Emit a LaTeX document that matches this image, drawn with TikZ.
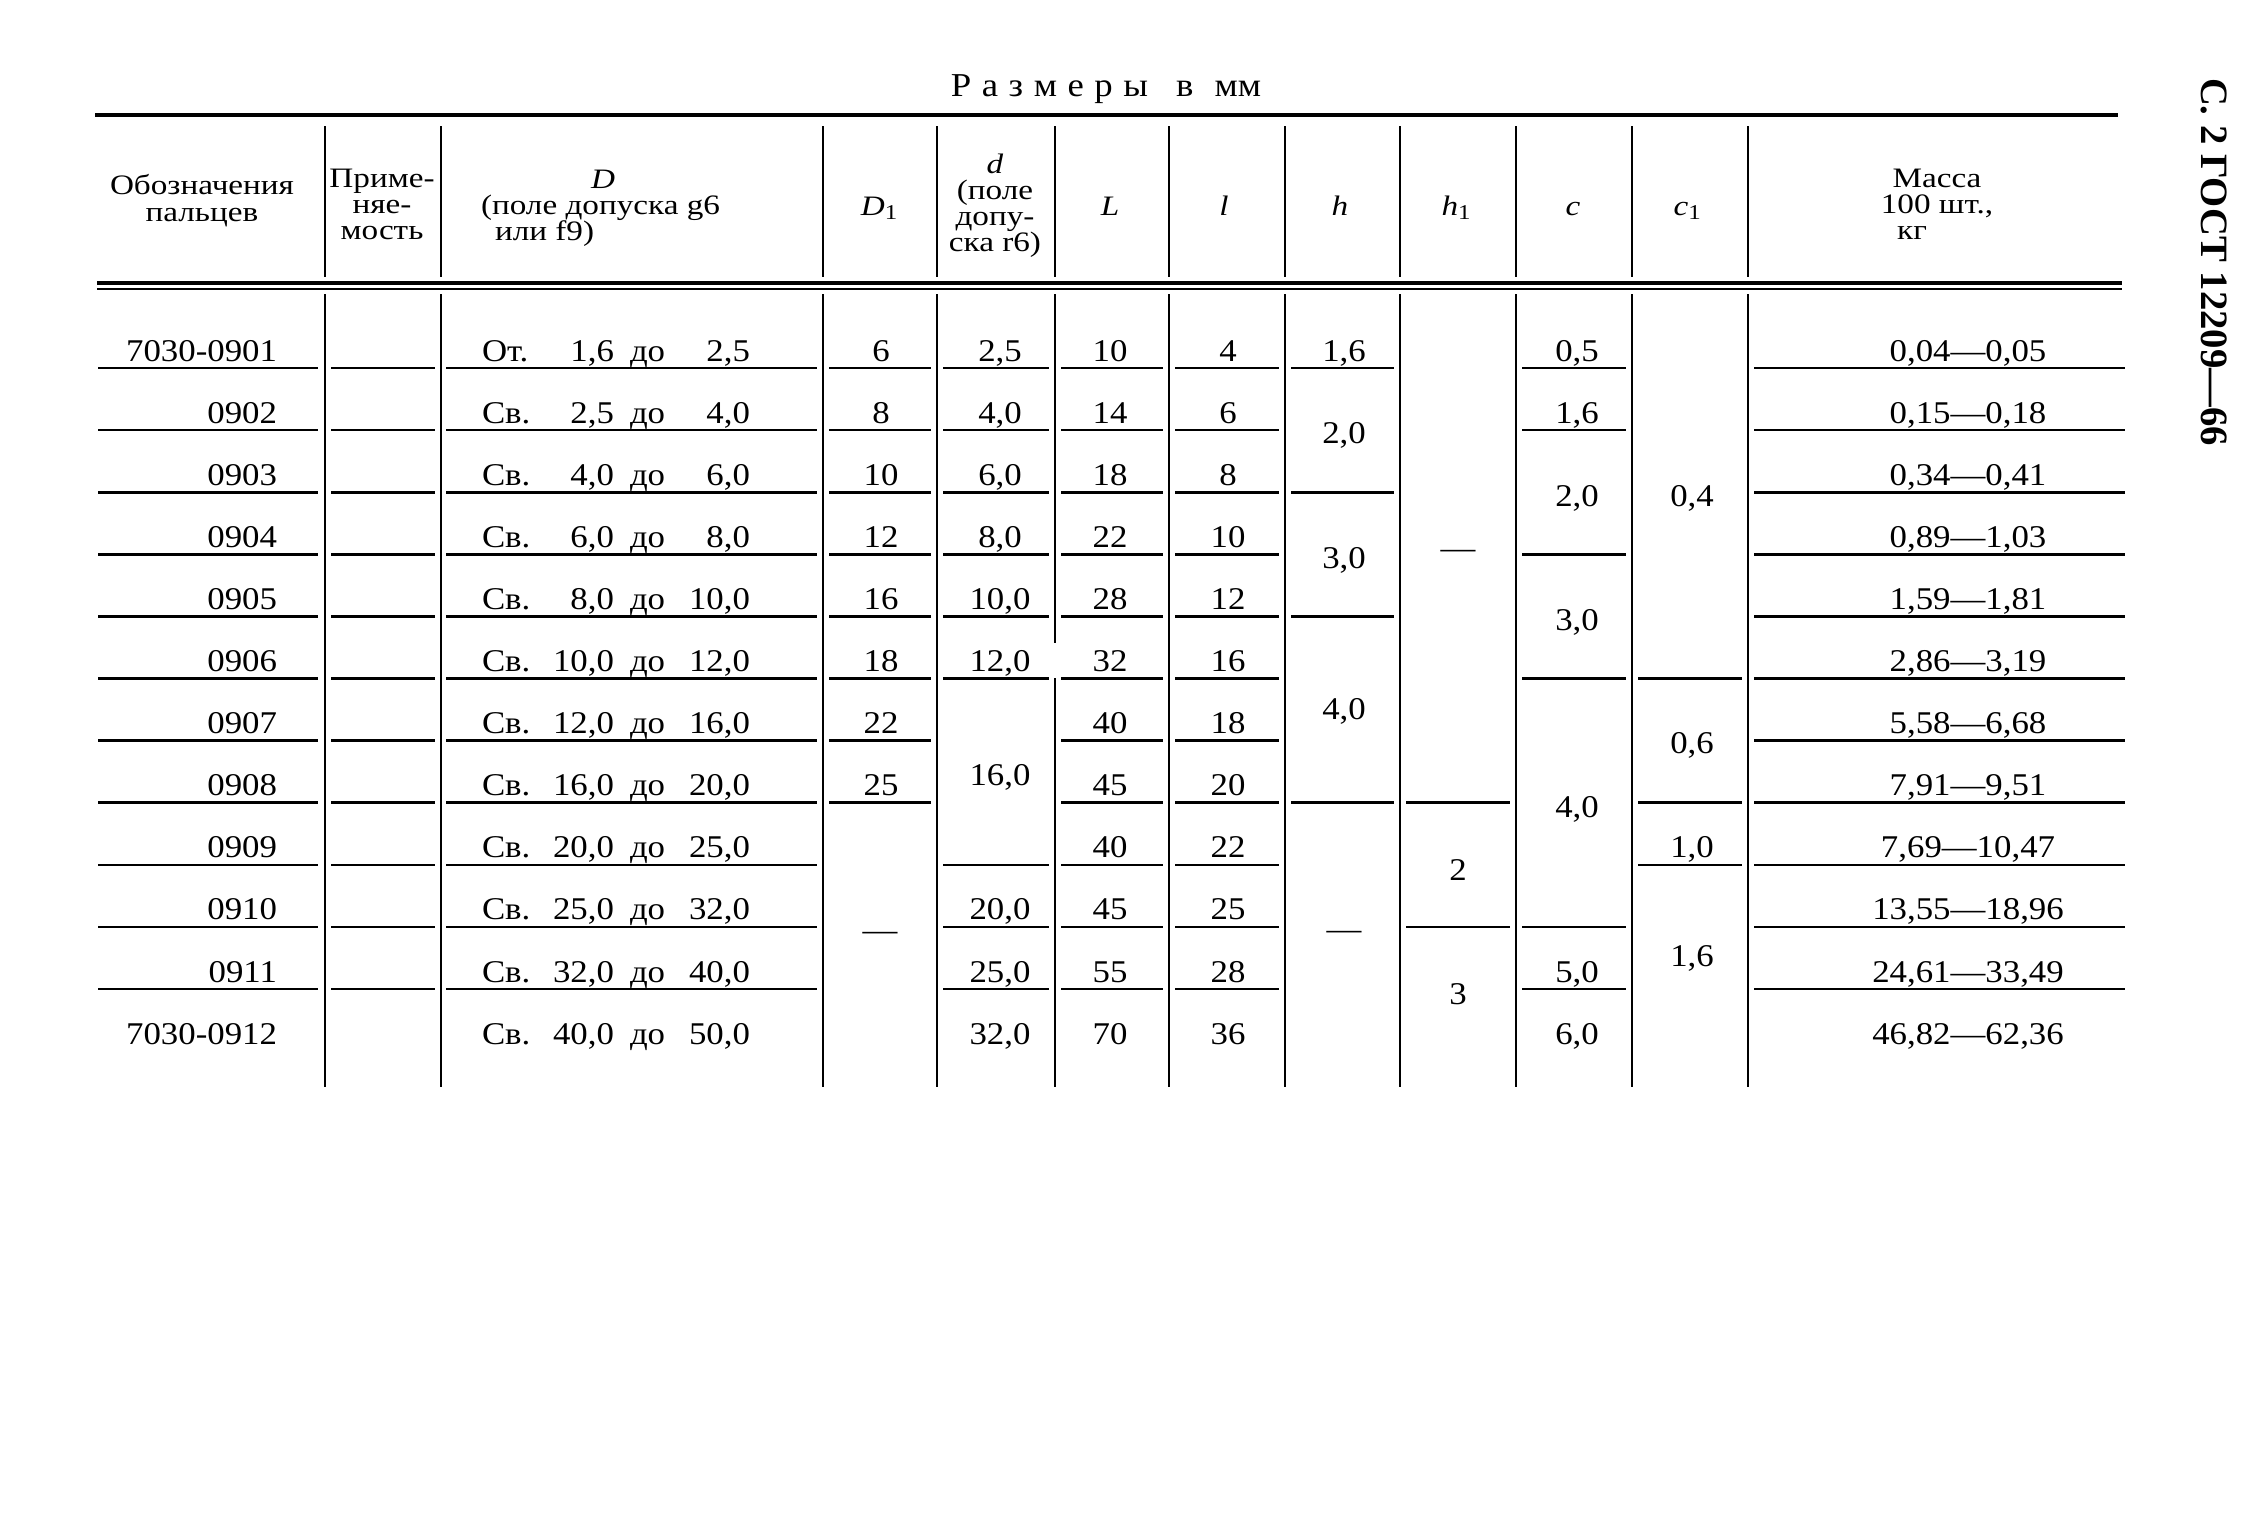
\documentclass[tikz,border=0pt]{standalone}
\usepackage{fontspec}
\setmainfont[FakeStretch=1.1]{Liberation Serif}
\newfontfamily\headfont[FakeStretch=1.18]{Liberation Serif}
\newfontfamily\sidefont{Liberation Serif}
\usetikzlibrary{positioning}

\begin{document}
\begin{tikzpicture}[x=0.01cm,y=-0.01cm]
  \tikzstyle{every node}=[inner sep=0pt,outer sep=0pt]
  \tikzstyle{cell}=[anchor=base,font=\fontsize{9}{10}\selectfont]
  \tikzstyle{head}=[font=\headfont\fontsize{8}{9}\selectfont,text height=5.5pt,text depth=1.5pt]
  \tikzstyle{rowrule}=[line width=0.75pt]
  \tikzstyle{colrule}=[line width=0.6pt]

  \useasboundingbox (0,0) rectangle (2252,1514);

  % title and page mark
  \node[anchor=base,font=\fontsize{9.5}{10}\selectfont] (title) at (1106,96)
    {Р\kern3pt а\kern3pt з\kern3pt м\kern3pt е\kern3pt р\kern3pt ы\hspace{8pt}в\hspace{6pt}мм};
  \node[rotate=-90,font=\sidefont\bfseries\fontsize{11}{12}\selectfont] (gost) at (2214,262)
    {С. 2 ГОСТ 12209—66};

  % frame rules
  \draw[line width=1.4pt] (95,115) -- (2118,115);
  \draw[line width=1.1pt] (97,283) -- (2122,283);
  \draw[line width=0.6pt] (97,289) -- (2122,289);
  \foreach \x in {325,441,823,937,1055,1169,1285,1400,1516,1632,1748}
    \draw[colrule] (\x,126) -- (\x,277);
  \foreach \x in {325,441,823,937,1169,1285,1400,1516,1632,1748}
    \draw[colrule] (\x,294) -- (\x,1087);
  \draw[colrule] (1055,294) -- (1055,643) (1055,678) -- (1055,1087);

  % header
  \node[head] (hdes1) at (202,187) {Обозначения};
  \node[head] (hdes2) at (202,214) {пальцев};
  \node[head] (happ1) at (382,180) {Приме-};
  \node[head] (happ2) at (382,206) {няе-};
  \node[head] (happ3) at (382,232) {мость};
  \node[head] (hD) at (603,181) {\textit{D}};
  \node[head,anchor=west] (hDa) at (481,207) {(поле допуска g6};
  \node[head,anchor=west] (hDb) at (495,233) {или f9)};
  \node[head] (hDone) at (880,208) {\textit{D}\textsubscript{1}};
  \node[head] (hd) at (995,166) {\textit{d}};
  \node[head] (hda) at (995,192) {(поле};
  \node[head] (hdb) at (995,218) {допу-};
  \node[head] (hdc) at (995,244) {ска r6)};
  \node[head] (hL) at (1110,208) {\textit{L}};
  \node[head] (hl) at (1224,208) {\textit{l}};
  \node[head] (hh) at (1340,208) {\textit{h}};
  \node[head] (hhone) at (1457,208) {\textit{h}\textsubscript{1}};
  \node[head] (hc) at (1573,208) {\textit{c}};
  \node[head] (hcone) at (1688,208) {\textit{c}\textsubscript{1}};
  \node[head] (hm1) at (1937,180) {Масса};
  \node[head] (hm2) at (1937,206) {100 шт.,};
  \node[head] (hm3) at (1912,232) {кг};

  % row rules: left/right/rows
  \foreach \l/\r/\rows in {98/318/{1,...,11}, 331/435/{1,...,11}, 446/817/{1,...,11},
      829/931/{1,...,8}, 943/1049/{1,2,3,4,5,6,9,10,11}, 1061/1163/{1,...,11},
      1175/1279/{1,...,11}, 1291/1394/{1,3,5,8}, 1406/1510/{8,10},
      1522/1626/{1,2,4,6,10,11}, 1638/1742/{6,8,9}, 1754/2125/{1,...,11}}
    \foreach \k in \rows
      \draw[rowrule] (\l,{368+(\k-1)*62.1}) -- (\r,{368+(\k-1)*62.1});

  % designations
  \foreach \k/\t in {1/7030-0901,2/0902,3/0903,4/0904,5/0905,6/0906,
      7/0907,8/0908,9/0909,10/0910,11/0911,12/7030-0912}
    \node[cell,anchor=base east] (des\k) at (277,{361+(\k-1)*62.1}) {\t};

  % D ranges
  \foreach \k/\p/\a/\b in {1/От./{1,6}/{2,5}, 2/Св./{2,5}/{4,0}, 3/Св./{4,0}/{6,0},
      4/Св./{6,0}/{8,0}, 5/Св./{8,0}/{10,0}, 6/Св./{10,0}/{12,0}, 7/Св./{12,0}/{16,0},
      8/Св./{16,0}/{20,0}, 9/Св./{20,0}/{25,0}, 10/Св./{25,0}/{32,0},
      11/Св./{32,0}/{40,0}, 12/Св./{40,0}/{50,0}}{
    \node[cell,anchor=base west] (pre\k) at (482,{361+(\k-1)*62.1}) {\p};
    \node[cell,anchor=base east] (from\k) at (614,{361+(\k-1)*62.1}) {\a};
    \node[cell,anchor=base west] (upto\k) at (630,{361+(\k-1)*62.1}) {до};
    \node[cell,anchor=base east] (to\k) at (750,{361+(\k-1)*62.1}) {\b};
  }

  % single cells
  \foreach \k/\v in {1/6,2/8,3/10,4/12,5/16,6/18,7/22,8/25}
    \node[cell] (Done\k) at (881,{361+(\k-1)*62.1}) {\v};
  \foreach \k/\v in {1/{2,5},2/{4,0},3/{6,0},4/{8,0},5/{10,0},6/{12,0},10/{20,0},11/{25,0},12/{32,0}}
    \node[cell] (d\k) at (1000,{361+(\k-1)*62.1}) {\v};
  \foreach \v [count=\k] in {10,14,18,22,28,32,40,45,40,45,55,70}
    \node[cell] (L\k) at (1110,{361+(\k-1)*62.1}) {\v};
  \foreach \v [count=\k] in {4,6,8,10,12,16,18,20,22,25,28,36}
    \node[cell] (l\k) at (1228,{361+(\k-1)*62.1}) {\v};
  \node[cell] (h1) at (1344,361) {1,6};
  \foreach \k/\v in {1/{0,5},2/{1,6},11/{5,0},12/{6,0}}
    \node[cell] (c\k) at (1577,{361+(\k-1)*62.1}) {\v};
  \node[cell] (cone9) at (1692,{361+8*62.1}) {1,0};
  \foreach \v [count=\k] in {{0,04—0,05},{0,15—0,18},{0,34—0,41},{0,89—1,03},
      {1,59—1,81},{2,86—3,19},{5,58—6,68},{7,91—9,51},{7,69—10,47},
      {13,55—18,96},{24,61—33,49},{46,82—62,36}}
    \node[cell] (m\k) at (1968,{361+(\k-1)*62.1}) {\v};

  % merged cells
  \node[cell,anchor=center] (Donelow) at (880,936) {—};
  \node[cell,anchor=center] (dmid) at (1000,777) {16,0};
  \node[cell,anchor=center] (hb) at (1344,435) {2,0};
  \node[cell,anchor=center] (hc) at (1344,560) {3,0};
  \node[cell,anchor=center] (hd) at (1344,711) {4,0};
  \node[cell,anchor=center] (he) at (1344,935) {—};
  \node[cell,anchor=center] (hone1) at (1458,554) {—};
  \node[cell,anchor=center] (hone2) at (1458,870) {2};
  \node[cell,anchor=center] (hone3) at (1458,994) {3};
  \node[cell,anchor=center] (cb) at (1577,498) {2,0};
  \node[cell,anchor=center] (cc) at (1577,622) {3,0};
  \node[cell,anchor=center] (cd) at (1577,809) {4,0};
  \node[cell,anchor=center] (conea) at (1692,498) {0,4};
  \node[cell,anchor=center] (coneb) at (1692,745) {0,6};
  \node[cell,anchor=center] (conec) at (1692,958) {1,6};
\end{tikzpicture}
\end{document}
